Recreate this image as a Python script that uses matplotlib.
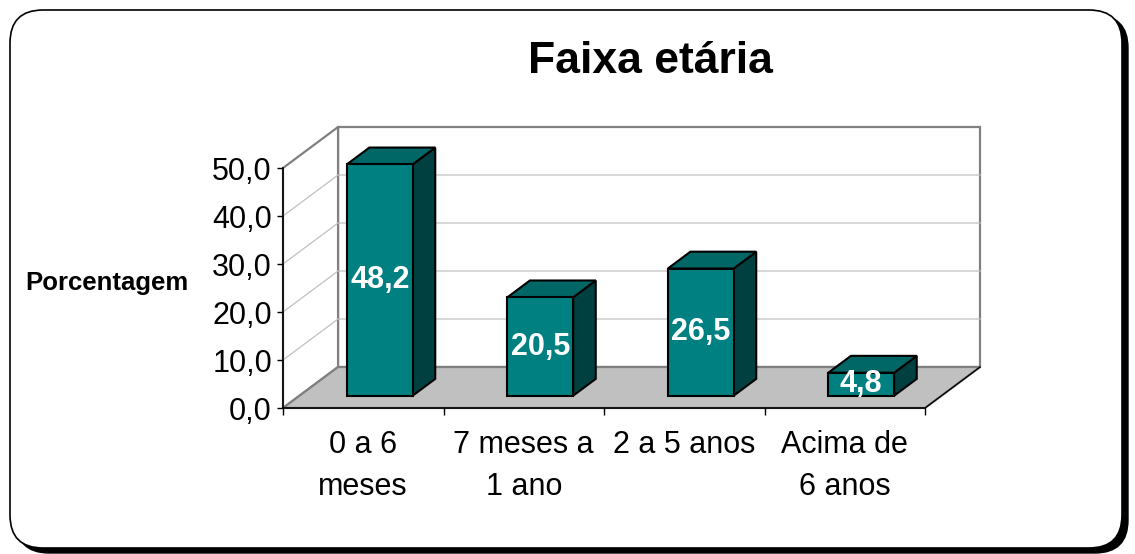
import matplotlib
matplotlib.use("Agg")
import matplotlib.pyplot as plt
from matplotlib.patches import FancyBboxPatch, Polygon
from matplotlib.lines import Line2D

plt.rcParams['font.family'] = ['Liberation Sans', 'DejaVu Sans']

# data
categories = ["0 a 6\nmeses", "7 meses a\n1 ano", "2 a 5 anos", "Acima de\n6 anos"]
values = [48.2, 20.5, 26.5, 4.8]
y_ticks = [0, 10, 20, 30, 40, 50]
title = "Faixa etária"
y_label = "Porcentagem"

# oblique 3d look: depth shift in data units (x in category slots, y in %)
DEPTH_X = 0.343
DEPTH_Y = 8.54
BAR_W = 0.41
D0, D1 = 0.30, 0.71
YMAX = y_ticks[-1]
N = len(categories)


def proj(x, v, d):
    return (x + DEPTH_X * d, v + DEPTH_Y * d)


fig = plt.figure(figsize=(11.35, 5.54), dpi=100)

# rounded frame with shadow
bg = fig.add_axes([0, 0, 1, 1])
bg.set_xlim(0, 1135)
bg.set_ylim(0, 554)
bg.axis('off')
bg.add_patch(FancyBboxPatch((16, 1), 1112, 538, boxstyle="round,pad=0,rounding_size=33",
                            fc='black', ec='black', lw=1))
bg.add_patch(FancyBboxPatch((10, 6), 1112, 538, boxstyle="round,pad=0,rounding_size=33",
                            fc='white', ec='black', lw=1.2))
bg.text(650, 481, title, ha='center', va='baseline', fontsize=32, fontweight='bold')
bg.text(107, 264, y_label, ha='center', va='baseline', fontsize=18.5, fontweight='bold')

ax = fig.add_axes([283 / 1135, 146 / 554, 642 / 1135, 240 / 554])
ax.set_xlim(0, N)
ax.set_ylim(0, YMAX)
ax.patch.set_visible(False)

wall_edge = '#808080'
grid_col = '#c0c0c0'

# back wall
back = [proj(0, 0, 1), proj(N, 0, 1), proj(N, YMAX, 1), proj(0, YMAX, 1)]
ax.add_patch(Polygon(back, closed=True, fc='white', ec=wall_edge, lw=1.6, clip_on=False, zorder=0.5))
# left wall
left = [proj(0, 0, 0), proj(0, 0, 1), proj(0, YMAX, 1), proj(0, YMAX, 0)]
ax.add_patch(Polygon(left, closed=True, fc='white', ec=wall_edge, lw=1.6, clip_on=False, zorder=0.5))

# gridlines on both walls
for v in y_ticks[1:-1]:
    p0, p1, p2 = proj(0, v, 0), proj(0, v, 1), proj(N, v, 1)
    ax.add_line(Line2D([p0[0], p1[0], p2[0]], [p0[1], p1[1], p2[1]], color=grid_col, lw=0.9,
                       clip_on=False, zorder=0.6))

# floor
floor = [proj(0, 0, 0), proj(N, 0, 0), proj(N, 0, 1), proj(0, 0, 1)]
ax.add_patch(Polygon(floor, closed=True, fc='#c0c0c0', ec=wall_edge, lw=1.6, clip_on=False, zorder=0.7))
f0, f1 = proj(N, 0, 0), proj(N, 0, 1)
ax.add_line(Line2D([f0[0], f1[0]], [f0[1], f1[1]], color='black', lw=1, clip_on=False, zorder=0.8))

# bars
for i, v in enumerate(values):
    x0 = i + 0.5 - BAR_W / 2
    x1 = i + 0.5 + BAR_W / 2
    front = [proj(x0, 0, D0), proj(x1, 0, D0), proj(x1, v, D0), proj(x0, v, D0)]
    top = [proj(x0, v, D0), proj(x1, v, D0), proj(x1, v, D1), proj(x0, v, D1)]
    side = [proj(x1, 0, D0), proj(x1, 0, D1), proj(x1, v, D1), proj(x1, v, D0)]
    for pts, col in [(side, '#004040'), (top, '#006666'), (front, '#008080')]:
        ax.add_patch(Polygon(pts, closed=True, fc=col, ec='black', lw=1.5,
                             joinstyle='miter', clip_on=False, zorder=3))
    cx, cy = proj(i + 0.5, v / 2, D0)
    ax.text(cx, cy, f"{v:.1f}".replace('.', ','), ha='center', va='center', color='white',
            fontsize=22, fontweight='bold', zorder=4, clip_on=False)

# axes, ticks and labels
for s in ['top', 'right']:
    ax.spines[s].set_visible(False)
for s in ['left', 'bottom']:
    ax.spines[s].set_color('black')
    ax.spines[s].set_linewidth(1.2)
    ax.spines[s].set_zorder(2)

ax.set_yticks(y_ticks)
ax.set_yticklabels([f"{t:.1f}".replace('.', ',') for t in y_ticks])
ax.tick_params(axis='y', length=4.5, width=1, pad=3.5, labelsize=22)

ax.set_xticks(range(N + 1))
ax.set_xticklabels([''] * (N + 1))
ax.set_xticks([i + 0.5 for i in range(N)], minor=True)
ax.set_xticklabels(categories, minor=True, fontsize=22, linespacing=1.5)
ax.tick_params(axis='x', which='major', length=5, width=1)
ax.tick_params(axis='x', which='minor', length=0, pad=16)

fig.savefig("out.png", dpi=100)
